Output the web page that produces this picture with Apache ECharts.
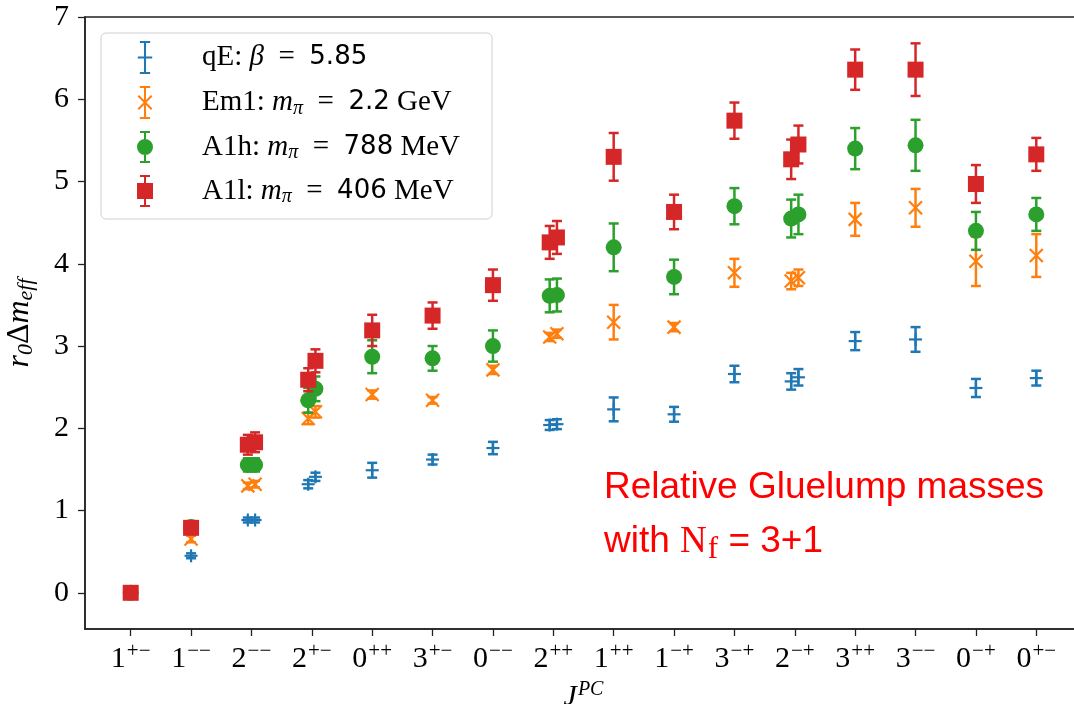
<!DOCTYPE html>
<html>
<head>
<meta charset="utf-8">
<script src="https://cdn.jsdelivr.net/npm/echarts@6/dist/echarts.min.js"></script>
<style>
  html, body { margin: 0; padding: 0; background: #fff; }
  #chart { width: 1074px; height: 704px; }
</style>
</head>
<body>
<div id="chart"></div>
<script>
// J^PC channels along the x axis (first char = J, rest = PC superscript)
const categories = ['1+-', '1--', '2--', '2+-', '0++', '3+-', '0--', '2++',
                    '1++', '1-+', '3-+', '2-+', '3++', '3--', '0-+', '0+-']
const yTicks = [0, 1, 2, 3, 4, 5, 6, 7]

// points: [category index, side (-1 left / 0 / +1 right of the tick), value, error]
const qE = [
  [0, 0, 0, 0], [1, 0, 0.45, 0.03], [2, -1, 0.885, 0.03], [2, 1, 0.885, 0.03],
  [3, -1, 1.32, 0.05], [3, 1, 1.41, 0.05], [4, 0, 1.49, 0.09], [5, 0, 1.62, 0.06],
  [6, 0, 1.76, 0.075], [7, -1, 2.04, 0.06], [7, 1, 2.05, 0.06], [8, 0, 2.23, 0.145],
  [9, 0, 2.17, 0.09], [10, 0, 2.66, 0.1], [11, -1, 2.57, 0.1], [11, 1, 2.62, 0.1],
  [12, 0, 3.06, 0.11], [13, 0, 3.08, 0.15], [14, 0, 2.49, 0.11], [15, 0, 2.61, 0.09],
]
const Em1 = [
  [0, 0, 0, 0], [1, 0, 0.654, 0.04], [2, -1, 1.30, 0.04], [2, 1, 1.32, 0.04],
  [3, -1, 2.12, 0.07], [3, 1, 2.20, 0.07], [4, 0, 2.41, 0.05], [5, 0, 2.34, 0.04],
  [6, 0, 2.71, 0.05], [7, -1, 3.11, 0.05], [7, 1, 3.15, 0.05], [8, 0, 3.29, 0.21],
  [9, 0, 3.23, 0.05], [10, 0, 3.89, 0.17], [11, -1, 3.79, 0.1], [11, 1, 3.83, 0.1],
  [12, 0, 4.54, 0.2], [13, 0, 4.68, 0.23], [14, 0, 4.03, 0.30], [15, 0, 4.10, 0.26],
]
const A1h = [
  [0, 0, 0, 0], [1, 0, 0.80, 0.05], [2, -1, 1.555, 0.08], [2, 1, 1.555, 0.08],
  [3, -1, 2.34, 0.15], [3, 1, 2.48, 0.15], [4, 0, 2.87, 0.2], [5, 0, 2.85, 0.15],
  [6, 0, 3.00, 0.19], [7, -1, 3.61, 0.2], [7, 1, 3.62, 0.2], [8, 0, 4.20, 0.29],
  [9, 0, 3.84, 0.21], [10, 0, 4.70, 0.22], [11, -1, 4.55, 0.23], [11, 1, 4.60, 0.24],
  [12, 0, 5.40, 0.25], [13, 0, 5.44, 0.31], [14, 0, 4.40, 0.23], [15, 0, 4.60, 0.2],
]
const A1l = [
  [0, 0, 0, 0], [1, 0, 0.79, 0.05], [2, -1, 1.80, 0.12], [2, 1, 1.83, 0.12],
  [3, -1, 2.59, 0.14], [3, 1, 2.82, 0.14], [4, 0, 3.19, 0.19], [5, 0, 3.37, 0.16],
  [6, 0, 3.74, 0.19], [7, -1, 4.26, 0.2], [7, 1, 4.32, 0.2], [8, 0, 5.30, 0.29],
  [9, 0, 4.63, 0.21], [10, 0, 5.74, 0.22], [11, -1, 5.27, 0.24], [11, 1, 5.45, 0.23],
  [12, 0, 6.36, 0.245], [13, 0, 6.36, 0.32], [14, 0, 4.97, 0.23], [15, 0, 5.33, 0.2],
]

const legendLabels = {
  qE: 'qE: {i|β}  =  {n|5.85}',
  Em1: 'Em1: {i|m}{sub|π}  =  {n|2.2} GeV',
  A1h: 'A1h: {i|m}{sub|π}  =  {n|788} MeV',
  A1l: 'A1l: {i|m}{sub|π}  =  {n|406} MeV',
}

const SIDE = 0.06   // horizontal shift of doubled points
const CAP = 5
const SERIF = 'Liberation Serif'

// legend icons: error bar with caps + marker, all sub-paths clockwise
const BAR = 'M3,0H13V2H3Z M7,0H9V32H7Z M3,30H13V32H3Z '
const ICONS = {
  plus: 'path://' + BAR + 'M1,15H15V17H1Z',
  cross: 'path://' + BAR + 'M2.2,8.8L15.2,21.8L13.8,23.2L0.8,10.2Z M15.2,10.2L2.2,23.2L0.8,21.8L13.8,8.8Z',
  circle: 'path://' + BAR + 'M0,16A8,8 0 1,1 16,16A8,8 0 1,1 0,16Z',
  square: 'path://' + BAR + 'M0,8H16V24H0Z',
}

function markerShape(kind, cx, cy, color) {
  const ls = { stroke: color, lineWidth: 2.2 }
  if (kind === 'plus') return [
    { type: 'line', shape: { x1: cx - 6.5, y1: cy, x2: cx + 6.5, y2: cy }, style: ls },
    { type: 'line', shape: { x1: cx, y1: cy - 6.5, x2: cx, y2: cy + 6.5 }, style: ls },
  ]
  if (kind === 'cross') return [
    { type: 'line', shape: { x1: cx - 6.5, y1: cy - 6.5, x2: cx + 6.5, y2: cy + 6.5 }, style: ls },
    { type: 'line', shape: { x1: cx - 6.5, y1: cy + 6.5, x2: cx + 6.5, y2: cy - 6.5 }, style: ls },
  ]
  if (kind === 'circle') return [{ type: 'circle', shape: { cx, cy, r: 8 }, style: { fill: color } }]
  return [{ type: 'rect', shape: { x: cx - 8, y: cy - 8, width: 16, height: 16 }, style: { fill: color } }]
}

function makeSeries(name, points, kind, color) {
  return {
    name,
    type: 'custom',
    itemStyle: { color },
    data: points.map(p => [p[0] + p[1] * SIDE, p[2], p[3]]),
    encode: { x: 0, y: 1 },
    renderItem(params, api) {
      const x = api.value(0), y = api.value(1), e = api.value(2)
      const c = api.coord([x, y])
      const hi = api.coord([x, y + e])
      const lo = api.coord([x, y - e])
      const ls = { stroke: color, lineWidth: 2.5 }
      const kids = [
        { type: 'line', shape: { x1: c[0], y1: hi[1], x2: c[0], y2: lo[1] }, style: ls },
        { type: 'line', shape: { x1: c[0] - CAP, y1: hi[1], x2: c[0] + CAP, y2: hi[1] }, style: ls },
        { type: 'line', shape: { x1: c[0] - CAP, y1: lo[1], x2: c[0] + CAP, y2: lo[1] }, style: ls },
      ]
      return { type: 'group', children: kids.concat(markerShape(kind, c[0], c[1], color)) }
    },
  }
}

function tickLabel(v) {
  const c = categories[Math.round(v)]
  return '{b|' + c[0] + '}{s|' + c.slice(1).replace(/-/g, '\u2212') + '}'
}

function buildOption() {
  return {
    backgroundColor: '#fff',
    animation: false,
    grid: {
      left: 85, right: -8, top: 17, bottom: 75,
      outerBoundsMode: 'none', containLabel: false,
      show: true, borderColor: '#222', borderWidth: 1.5,
    },
    legend: {
      orient: 'vertical',
      left: 101, top: 33,
      padding: [8, 32, 12, 36],
      itemGap: 12,
      itemWidth: 16, itemHeight: 33,
      backgroundColor: 'rgba(255,255,255,0.85)',
      borderColor: '#d0d0d0', borderWidth: 1, borderRadius: 5,
      itemStyle: { borderWidth: 0 },
      data: [
        { name: 'qE', icon: ICONS.plus },
        { name: 'Em1', icon: ICONS.cross },
        { name: 'A1h', icon: ICONS.circle },
        { name: 'A1l', icon: ICONS.square },
      ],
      formatter: name => legendLabels[name],
      textStyle: {
        fontFamily: SERIF, fontSize: 29, color: '#000', padding: [0, 0, 0, 44],
        rich: {
          i: { fontFamily: SERIF, fontStyle: 'italic', fontSize: 29, color: '#000' },
          sub: { fontFamily: SERIF, fontStyle: 'italic', fontSize: 20, color: '#000', padding: [12, 0, 0, 0] },
          n: { fontFamily: 'DejaVu Sans', fontSize: 26, color: '#000' },
        },
      },
    },
    xAxis: {
      type: 'value',
      min: -0.757, max: 15.757,
      splitLine: { show: false },
      axisLine: { onZero: false, lineStyle: { color: '#222', width: 1.5 } },
      axisTick: { length: 7, customValues: categories.map((c, i) => i), lineStyle: { color: '#222', width: 1.3 } },
      axisLabel: {
        customValues: categories.map((c, i) => i),
        formatter: tickLabel,
        margin: 12,
        rich: {
          b: { fontFamily: SERIF, fontSize: 30, color: '#000' },
          s: { fontFamily: SERIF, fontSize: 21, color: '#000', padding: [0, 0, 16, 1] },
        },
      },
      name: '{i|J}{s|PC}',
      nameLocation: 'middle',
      nameGap: 40,
      nameTextStyle: {
        rich: {
          i: { fontFamily: SERIF, fontStyle: 'italic', fontSize: 30, color: '#000' },
          s: { fontFamily: SERIF, fontStyle: 'italic', fontSize: 20, color: '#000', padding: [0, 0, 16, 1] },
        },
      },
    },
    yAxis: {
      type: 'value',
      min: -0.44, max: 7,
      splitLine: { show: false },
      axisLine: { onZero: false, lineStyle: { color: '#222', width: 1.5 } },
      axisTick: { length: 7, customValues: yTicks, lineStyle: { color: '#222', width: 1.3 } },
      axisLabel: {
        customValues: yTicks,
        margin: 16,
        fontFamily: SERIF, fontSize: 30, color: '#000',
      },
      name: '{i|r}{sub|0}{n|\u0394}{i|m}{sub|eff}',
      nameLocation: 'middle',
      nameRotate: 90,
      nameGap: 48,
      nameTextStyle: {
        rich: {
          i: { fontFamily: SERIF, fontStyle: 'italic', fontSize: 32, color: '#000' },
          n: { fontFamily: SERIF, fontSize: 32, color: '#000' },
          sub: { fontFamily: SERIF, fontStyle: 'italic', fontSize: 22, color: '#000', padding: [12, 0, 0, 0] },
        },
      },
    },
    graphic: [{
      type: 'text',
      left: 604, top: 461,
      style: {
        text: 'Relative Gluelump masses\nwith {n|N}{f|f} = 3+1',
        fontFamily: 'Liberation Sans', fontSize: 37, lineHeight: 54, fill: '#ff0000',
        rich: {
          n: { fontFamily: SERIF, fontSize: 37, lineHeight: 54, fill: '#ff0000' },
          f: { fontFamily: SERIF, fontSize: 31, lineHeight: 54, fill: '#ff0000', padding: [16, 0, 0, 1] },
        },
      },
    }],
    series: [
      makeSeries('qE', qE, 'plus', '#1f77b4'),
      makeSeries('Em1', Em1, 'cross', '#ff7f0e'),
      makeSeries('A1h', A1h, 'circle', '#2ca02c'),
      makeSeries('A1l', A1l, 'square', '#d62728'),
    ],
  }
}

const chart = echarts.init(document.getElementById('chart'))
chart.setOption(buildOption())
</script>
</body>
</html>
